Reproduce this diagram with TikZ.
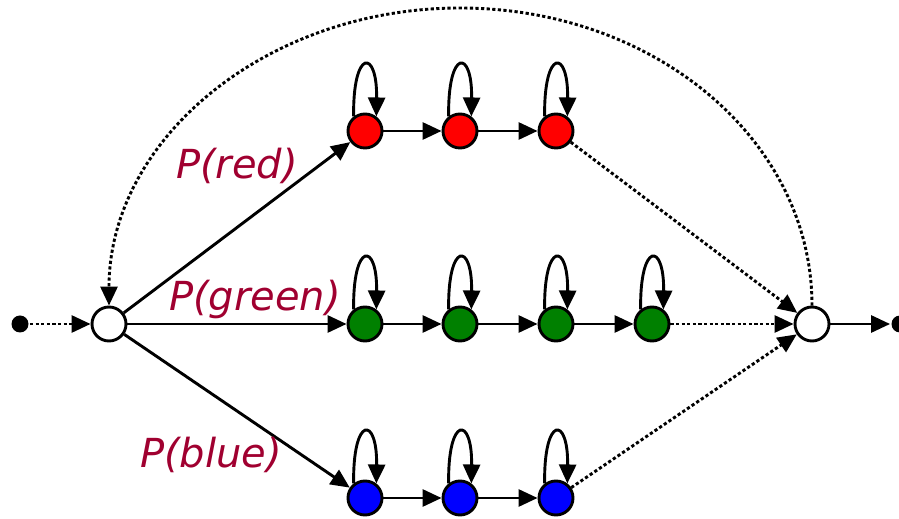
\documentclass[tikz,border=0pt]{standalone}
\usepackage{fontspec}
\newfontfamily\labelfont{DejaVu Sans}
\usetikzlibrary{arrows.meta}
\definecolor{lblred}{RGB}{160,0,48}
\definecolor{stgreen}{RGB}{0,128,0}
\begin{document}
\begin{tikzpicture}[x=1pt,y=1pt,line width=2.9pt,>={Triangle[length=19pt,width=17pt]},
		st/.style={draw,circle,minimum size=34pt,inner sep=0pt,fill=white},
		term/.style={circle,fill=black,minimum size=17pt,inner sep=0pt},
		dots/.style={dash pattern=on 3.2pt off 2.4pt},
		lbl/.style={text=lblred,font=\labelfont\itshape\fontsize{40}{48}\selectfont}]
	\useasboundingbox (0,0) rectangle (899,519);
	\node[term] (a) at (20,195) {};
	\node[st] (s) at (109,195) {};
	\node[st] (e) at (812,195) {};
	\node[term] (z) at (900,195) {};
	\foreach \n/\x in {1/365,2/460,3/556}{
		\node[st,fill=red] (r\n) at (\x,388) {};
		\node[st,fill=blue] (b\n) at (\x,21) {};
	}
	\foreach \n/\x in {1/365,2/460,3/556,4/652}{
		\node[st,fill=stgreen] (g\n) at (\x,195) {};
	}
	% self loops
	\def\k{68}
	\foreach \q in {r1,r2,r3,g1,g2,g3,g4,b1,b2,b3}{
		\draw[->] (\q.128) .. controls +(-1,\k) and +(1,\k) .. (\q.52);
	}
	% chains
	\draw[->] (r1)--(r2);
	\draw[->] (r2)--(r3);
	\draw[->] (g1)--(g2);
	\draw[->] (g2)--(g3);
	\draw[->] (g3)--(g4);
	\draw[->] (b1)--(b2);
	\draw[->] (b2)--(b3);
	\draw[->] (s)--(r1);
	\draw[->] (s)--(g1);
	\draw[->] (s)--(b1);
	\draw[dots,->] (a)--(s);
	\draw[dots,->] (r3)--(e);
	\draw[dots,->] (g4)--(e);
	\draw[dots,->] (b3)--(e);
	\draw[->] (e)--(z);
	\coordinate (top) at (460,511);
	\draw[dots,->] (e.north) .. controls +(0,166) and +(194,0) .. (top) .. controls +(-194,0) and +(0,166) .. (s.north);
	\node[lbl] (lr) at (237,353) {P(red)};
	\node[lbl] (lg) at (255,220) {P(green)};
	\node[lbl] (lb) at (211,64) {P(blue)};
\end{tikzpicture}
\end{document}
